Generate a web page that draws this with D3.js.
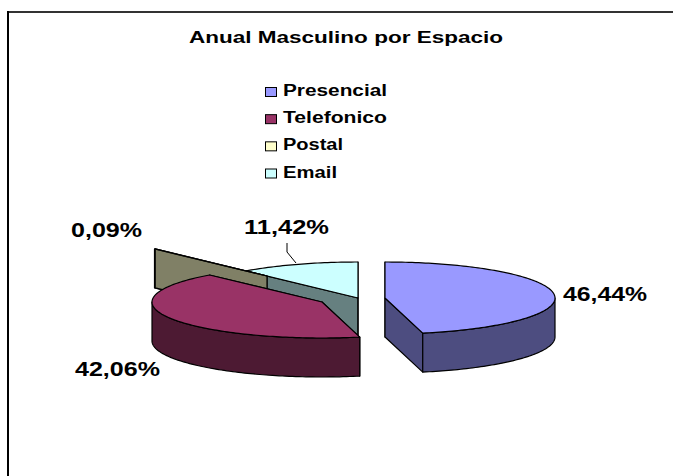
<!DOCTYPE html>
<html>
<head>
<meta charset="utf-8">
<script src="https://cdn.jsdelivr.net/npm/d3@7"></script>
<style>
    html, body { margin: 0; padding: 0; background: #fff; }
    svg { display: block; }
    text { font-family: "Liberation Sans", Arial, sans-serif; font-weight: bold; fill: #000; }
</style>
</head>
<body>
<svg class="vis" width="673" height="476"></svg>
<script>
const categories = ["Presencial", "Telefonico", "Postal", "Email"];
const percentages = [46.44, 42.06, 0.09, 11.42];
const percent_labels = ["46,44%", "42,06%", "0,09%", "11,42%"];
const chart_title = "Anual Masculino por Espacio";

const top_colors = ["#9999ff", "#993366", "#ffffcc", "#ccffff"];
const side_colors = ["#4d4d80", "#4d1a33", "#808066", "#668080"];

const w = 673, h = 476;
const rx = 170, ry = 36, depth = 39;

// apex of each exploded slice
const apex = [[385, 298], [322, 302], [267, 276], [358, 298]];

const svg = d3.select("svg.vis");

// only the top and left edges of the frame show
svg.append("line")
    .attr("x1", 7).attr("x2", w).attr("y1", 12).attr("y2", 12)
    .attr("stroke", "#333").attr("stroke-width", 2);
svg.append("line")
    .attr("x1", 8).attr("x2", 8).attr("y1", 11).attr("y2", h)
    .attr("stroke", "#000").attr("stroke-width", 2);

function stretched(sel, x, y, txt, size, len, anchor) {
    return sel.append("text")
        .attr("x", x).attr("y", y)
        .attr("font-size", size)
        .attr("text-anchor", anchor || "start")
        .attr("textLength", len)
        .attr("lengthAdjust", "spacingAndGlyphs")
        .text(txt);
}

stretched(svg, 189, 42.5, chart_title, 17, 314);

// legend
const legend_y = d3.scalePoint().domain(categories).range([96, 177.5]);
const legend_len = [104, 104, 60, 54];
categories.forEach((c, i) => {
    svg.append("rect")
        .attr("x", 265.5).attr("y", legend_y(c) - 8.5)
        .attr("width", 11).attr("height", 9)
        .attr("fill", top_colors[i])
        .attr("stroke", "#000").attr("stroke-width", 1);
    stretched(svg, 283, legend_y(c), c, 16, legend_len[i]);
});

// pie angles, clockwise from twelve o'clock
const arcs = d3.pie().sort(null).value(d => d)(percentages);

const px = (i, a) => apex[i][0] + rx * Math.sin(a);
const py = (i, a) => apex[i][1] - ry * Math.cos(a);

function rim(i, a0, a1, dy) {
    const n = Math.max(2, Math.ceil(Math.abs(a1 - a0) / 0.02));
    return d3.range(n + 1).map(k => {
        const a = a0 + (a1 - a0) * k / n;
        return [px(i, a), py(i, a) + dy];
    });
}

const line = d3.line();

function draw_poly(points, fill) {
    svg.append("path")
        .attr("d", line(points) + "Z")
        .attr("fill", fill)
        .attr("stroke", "#000")
        .attr("stroke-width", 1.2)
        .attr("stroke-linejoin", "round");
}

function draw_slice(i) {
    const a0 = arcs[i].startAngle, a1 = arcs[i].endAngle;
    const c = apex[i];

    // cut faces
    [a0, a1].forEach(a => {
        draw_poly([c, [px(i, a), py(i, a)], [px(i, a), py(i, a) + depth], [c[0], c[1] + depth]], side_colors[i]);
    });

    // outer wall, only the part facing the viewer
    const s0 = Math.max(a0, Math.PI / 2), s1 = Math.min(a1, Math.PI * 1.5);
    if (s1 > s0) {
        draw_poly(rim(i, s0, s1, 0).concat(rim(i, s1, s0, depth)), side_colors[i]);
    }

    draw_poly([c].concat(rim(i, a0, a1, 0)), top_colors[i]);
}

[3, 2, 1, 0].forEach(draw_slice);

// leader line for the email label
svg.append("path")
    .attr("d", line([[287, 243], [287, 252], [296, 263]]))
    .attr("fill", "none")
    .attr("stroke", "#000");

// data labels
stretched(svg, 563, 301, percent_labels[0], 21, 84);
stretched(svg, 75, 376, percent_labels[1], 21, 85);
stretched(svg, 71, 237, percent_labels[2], 21, 71);
stretched(svg, 244, 234, percent_labels[3], 21, 85);
</script>
</body>
</html>
